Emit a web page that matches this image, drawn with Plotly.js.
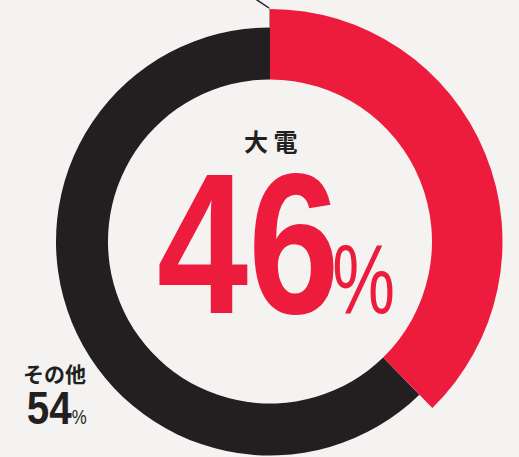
<!DOCTYPE html>
<html><head><meta charset="utf-8">
<script src="https://cdn.plot.ly/plotly-3.0.1.min.js"></script>
<style>html,body{margin:0;padding:0;background:#f4f3f1;overflow:hidden;} #chart{width:519px;height:500px;}</style>
</head><body><div id="chart"></div>
<script>
// Data
const categories = ['大電', 'その他'];
const percentLabels = [46, 54];          // printed shares
const drawnShares = [37.7, 62.3];        // wedge sizes as drawn in the picture
const sliceColors = ['#ed1c3c', '#231f20'];

const W = 519, H = 500;
const cx = 270, cy = 241.5;
const rHole = 162, rBlack = 214, rRed = 232.5;
const px = x => x / W;
const py = y => (H - y) / H;
function dom(r){ return {x:[px(cx - r), px(cx + r)], y:[py(cy + r), py(cy - r)]}; }
const T = 'rgba(0,0,0,0)';
const base = {type:'pie', labels:categories, values:drawnShares, sort:false, direction:'clockwise',
  rotation:0, textinfo:'none', hoverinfo:'skip', showlegend:false};
const traces = [
  Object.assign({}, base, {domain:dom(rBlack), hole:rHole / rBlack, marker:{colors:[T, sliceColors[1]], line:{width:0}}}),
  Object.assign({}, base, {domain:dom(rRed), hole:rHole / rRed, marker:{colors:[sliceColors[0], T], line:{width:0}}})
];
const dark = '#231f20';
const sans = 'Liberation Sans, Arial, sans-serif';
const cjk = 'Noto Sans CJK JP, sans-serif';
function ann(text, x, y, size, family, color, weight){
  return {text:text, xref:'paper', yref:'paper', x:px(x), y:py(y), xanchor:'center', yanchor:'middle',
    showarrow:false, font:{size:size, family:family, color:color, weight:weight}};
}
const annotations = [
  ann(categories[0].split('').join(' '), 270.5, 140, 24, cjk, dark, 700),
  ann(String(percentLabels[0]), 247.5, 243, 200, sans, sliceColors[0], 700),
  ann('%', 363.5, 279, 98, sans, sliceColors[0], 400),
  ann(categories[1], 54, 373, 21, cjk, dark, 700),
  ann(String(percentLabels[1]), 48.5, 407, 47, sans, dark, 700),
  ann('%', 79.5, 416.5, 21, sans, dark, 400)
];
// horizontal condensing of the display numerals (the reference uses a narrow face)
const squeeze = [1, 0.82, 0.72, 1, 0.86, 0.8];
const shapes = [
  {type:'line', xref:'paper', yref:'paper', x0:px(254), y0:py(-2), x1:px(269), y1:py(8), line:{color:dark, width:1.5}},
  {type:'line', xref:'paper', yref:'paper', x0:px(269.5), y0:py(8), x1:px(269.5), y1:py(27), line:{color:'#8a8486', width:0.8}}
];
const layout = {width:W, height:H, margin:{l:0, r:0, t:0, b:0}, paper_bgcolor:'#f4f3f1', plot_bgcolor:'#f4f3f1',
  showlegend:false, annotations:annotations, shapes:shapes};
Plotly.newPlot('chart', traces, layout, {displayModeBar:false, staticPlot:true}).then(gd => {
  gd.querySelectorAll('.annotation').forEach(g => {
    const i = +g.getAttribute('data-index');
    const s = squeeze[i];
    const t = g.querySelector('text.annotation-text');
    if(!t || !s || s === 1) return;
    const b = t.getBBox();
    const c = b.x + b.width / 2;
    t.setAttribute('transform', 'translate(' + c + ',0) scale(' + s + ',1) translate(' + (-c) + ',0)');
  });
});
</script></body></html>
